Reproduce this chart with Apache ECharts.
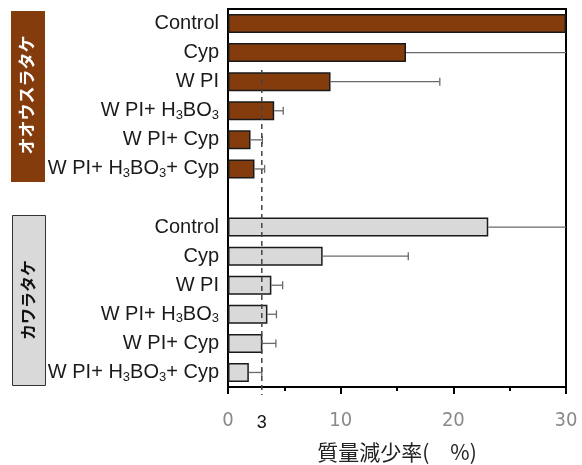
<!DOCTYPE html>
<html>
<head>
<meta charset="utf-8">
<script src="https://cdn.jsdelivr.net/npm/echarts@6/dist/echarts.min.js"></script>
<style>
  html, body { margin: 0; padding: 0; background: #fff; }
  #chart { width: 582px; height: 465px; }
</style>
</head>
<body>
<div id="chart"></div>
<script>
// Treatments (the digit 3 in each name is drawn as a subscript)
const treatments = ['Control', 'Cyp', 'W PI', 'W PI+ H3BO3', 'W PI+ Cyp', 'W PI+ H3BO3+ Cyp'];
// Fungus groups
const fungi = ['オオウスラタケ', 'カワラタケ'];
// Mass loss (%) and error for each fungus
const massLossA = [30, 15.8, 9.1, 4.1, 2.0, 2.35];
const errorA = [null, 16.0, 9.7, 0.8, 1.05, 0.9];
const massLossB = [23.1, 8.4, 3.85, 3.5, 3.05, 1.85];
const errorB = [8.0, 7.6, 1.0, 0.8, 1.2, 1.15];
// Value axis ticks and threshold
const xTicks = [0, 10, 20, 30];
const threshold = 3;

const colorA = '#843C0C';
const colorB = '#D9D9D9';
const latin = '"Liberation Sans", Arial, sans-serif';
const cjk = '"Noto Sans CJK JP", sans-serif';

// 13 rows: six for each fungus and one empty row between them
const rowLabels = [...treatments, '', ...treatments];
const rowKeys = rowLabels.map((_, i) => 'r' + i);

const barData = [];
const errData = [];
treatments.forEach((t, i) => {
  barData.push({ value: massLossA[i], itemStyle: { color: colorA } });
  if (errorA[i] != null) errData.push([massLossA[i], i, errorA[i]]);
});
barData.push('-');
treatments.forEach((t, i) => {
  const row = treatments.length + 1 + i;
  barData.push({ value: massLossB[i], itemStyle: { color: colorB } });
  if (errorB[i] != null) errData.push([massLossB[i], row, errorB[i]]);
});

const xMin = xTicks[0];
const xMax = xTicks[xTicks.length - 1];

function formatRow(value, index) {
  const s = rowLabels[index];
  if (!s) return '';
  return s.split('3').map(p => (p ? '{m|' + p + '}' : '')).join('{s|3}');
}

const chart = echarts.init(document.getElementById('chart'), null, { renderer: 'canvas' });

const option = {
  animation: false,
  backgroundColor: '#fff',
  grid: {
    left: 228, right: 16, top: 9, bottom: 78,
    containLabel: false,
    outerBoundsMode: 'none',
    show: true, borderColor: '#000', borderWidth: 2, backgroundColor: 'transparent'
  },
  xAxis: {
    type: 'value',
    min: xMin, max: xMax, interval: 10,
    axisLine: { show: true, lineStyle: { color: '#000', width: 2 } },
    axisTick: { show: true, length: 7, lineStyle: { color: '#000', width: 2 } },
    minorTick: { show: true, splitNumber: 2, length: 4, lineStyle: { color: '#000', width: 2 } },
    splitLine: { show: false },
    axisLabel: {
      margin: 24,
      fontSize: 20,
      color: '#8a8a8a',
      fontFamily: '"Liberation Sans Narrow", "DejaVu Sans Condensed", sans-serif'
    },
    name: '質量減少率(　%)',
    nameLocation: 'middle',
    nameGap: 55,
    nameTextStyle: { fontSize: 21, color: '#222', fontFamily: cjk }
  },
  yAxis: {
    type: 'category',
    inverse: true,
    data: rowKeys,
    axisLine: { show: true, lineStyle: { color: '#000', width: 2 } },
    axisTick: { show: false },
    axisLabel: {
      margin: 9,
      interval: 0,
      formatter: formatRow,
      rich: {
        m: { fontSize: 20, lineHeight: 22, color: '#1a1a1a', fontFamily: latin },
        s: { fontSize: 13, lineHeight: 7, verticalAlign: 'bottom', color: '#1a1a1a', fontFamily: latin }
      }
    }
  },
  series: [
    {
      type: 'bar',
      data: barData,
      barWidth: 19,
      itemStyle: { borderColor: '#1a1a1a', borderWidth: 1.5 },
      z: 2
    },
    {
      type: 'custom',
      data: errData,
      encode: { x: 0, y: 1 },
      z: 3,
      renderItem: function (params, api) {
        const v = api.value(0);
        const row = api.value(1);
        const e = api.value(2);
        const top = v + e;
        const start = api.coord([v, row]);
        const end = api.coord([Math.min(top, xMax), row]);
        const style = { stroke: '#6a6a6a', lineWidth: 1.3 };
        const children = [
          { type: 'line', shape: { x1: start[0], y1: start[1], x2: end[0], y2: end[1] }, style: style }
        ];
        if (top <= xMax) {
          children.push({ type: 'line', shape: { x1: end[0], y1: end[1] - 4, x2: end[0], y2: end[1] + 4 }, style: style });
        }
        return { type: 'group', children: children };
      }
    }
  ]
};

chart.setOption(option);

// Threshold line, its label and the fungus group tags
const tx = chart.convertToPixel({ xAxisIndex: 0 }, threshold);
chart.setOption({
  graphic: [
    {
      type: 'line',
      shape: { x1: tx, y1: 70, x2: tx, y2: 395 },
      style: { stroke: '#444', lineWidth: 1.5, lineDash: [5, 4] },
      z: 10
    },
    {
      type: 'text',
      x: tx, y: 423,
      style: { text: String(threshold), fontSize: 18, fontFamily: latin, fill: '#111', align: 'center', verticalAlign: 'middle' }
    },
    {
      type: 'rect',
      shape: { x: 11, y: 11, width: 34, height: 171 },
      style: { fill: colorA }
    },
    {
      type: 'text',
      x: 27, y: 95,
      rotation: Math.PI / 2,
      style: { text: fungi[0], fontSize: 17, fontWeight: 'bold', fontFamily: cjk, fill: '#fff', align: 'center', verticalAlign: 'middle' }
    },
    {
      type: 'rect',
      shape: { x: 12.5, y: 215.5, width: 33, height: 170 },
      style: { fill: colorB, stroke: '#333', lineWidth: 1 }
    },
    {
      type: 'text',
      x: 28, y: 300,
      rotation: Math.PI / 2,
      style: { text: fungi[1], fontSize: 16, fontWeight: 'bold', fontFamily: cjk, fill: '#111', align: 'center', verticalAlign: 'middle' }
    }
  ]
});
</script>
</body>
</html>
